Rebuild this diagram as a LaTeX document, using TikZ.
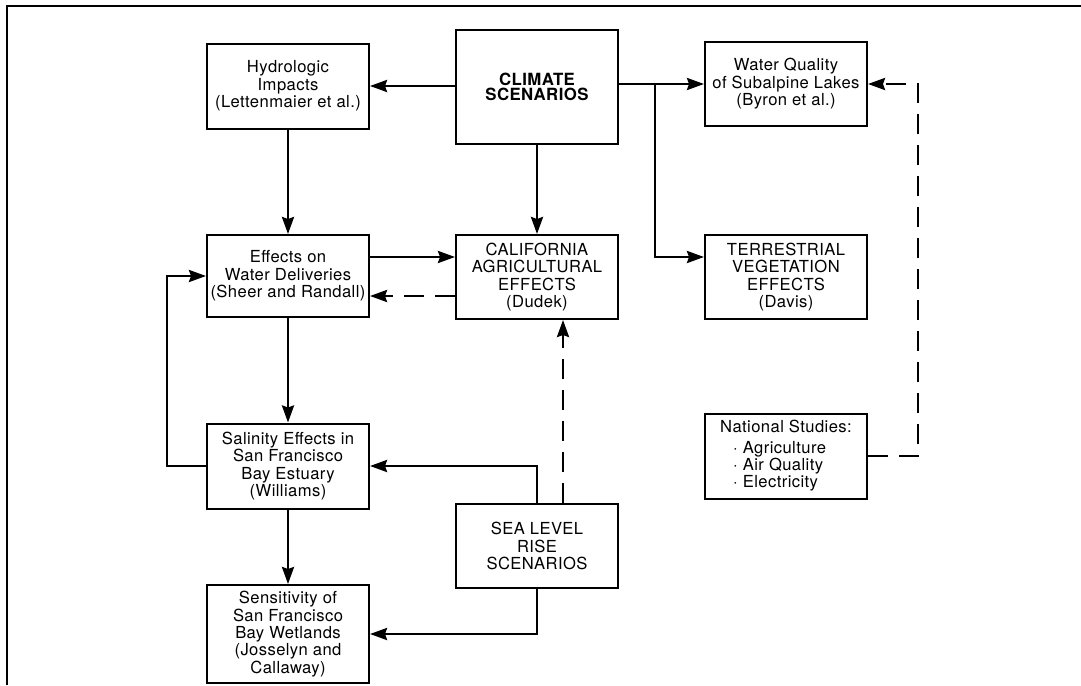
\documentclass[tikz,border=0pt]{standalone}
\usepackage{fontspec}
\setmainfont{TeX Gyre Heros}[LetterSpace=2.5]
\usetikzlibrary{arrows.meta}
\begin{document}
\begin{tikzpicture}[x=0.5pt,y=-0.5pt,
  box/.style={draw, line width=1pt, minimum width=81pt, minimum height=42pt, inner sep=0pt, align=center, font=\fontsize{8.3}{8.7}\selectfont},
  conn/.style={line width=1.3pt, -{Stealth[length=8.5pt,width=6pt,inset=1pt]}},
  dconn/.style={conn, dash pattern=on 10pt off 5.5pt},
  frame/.style={line width=1.1pt}
]
\useasboundingbox (0,0) rectangle (1081,685);
\coordinate (f1) at (7,685);
\coordinate (f2) at (7,6);
\coordinate (f3) at (1081,6);
\draw[frame] (f1) -- (f2) -- (f3);

\node[box, minimum height=42.5pt] (hyd) at (288,86) {Hydrologic\\Impacts\\(Lettenmaier et al.)};
\node[box, minimum height=57pt, font=\bfseries\fontsize{8.4}{7.5}\selectfont] (clim) at (537,87) {CLIMATE\\SCENARIOS};
\node[box] (wq) at (786,84) {Water Quality\\of Subalpine Lakes\\(Byron et al.)};
\node[box, minimum height=41pt] (eff) at (288,276) {Effects on\\Water Deliveries\\(Sheer and Randall)};
\node[box] (cal) at (537,277) {CALIFORNIA\\AGRICULTURAL\\EFFECTS\\(Dudek)};
\node[box] (ter) at (786,277) {TERRESTRIAL\\VEGETATION\\EFFECTS\\(Davis)};
\node[box, minimum height=42.5pt] (sal) at (288,466) {Salinity Effects in\\San Francisco\\Bay Estuary\\(Williams)};
\node[box, minimum height=49pt] (sen) at (288,634) {Sensitivity of\\San Francisco\\Bay Wetlands\\(Josselyn and\\Callaway)};
\node[box] (sea) at (537,546) {SEA LEVEL\\RISE\\SCENARIOS};
\node[box, minimum height=42.5pt, align=left] (nat) at (786,456) {National Studies:\\[1.5pt]\hspace*{6.5pt}· Agriculture\\\hspace*{6.5pt}· Air Quality\\\hspace*{6.5pt}· Electricity};

\draw[conn] (clim.west |- hyd.east) -- (hyd.east);
\draw[conn] (clim.east |- wq.west) -- (wq.west);
\coordinate (br) at (655,84);
\draw[conn] (br) |- (ter.west |- 0,257);
\draw[conn] (clim) -- (cal);
\draw[conn] (hyd) -- (eff);
\draw[conn] (eff.east |- 0,257) -- (cal.west |- 0,257);
\draw[dconn] (cal.west |- 0,296) -- (eff.east |- 0,296);
\draw[conn] (eff) -- (sal);
\coordinate (lp) at (167,466);
\draw[conn] (sal.west) -- (lp) |- (eff.west);
\draw[conn] (sal) -- (sen);
\draw[conn] (sea.north) |- (sal.east);
\draw[conn] (sea.south) |- (sen.east);
\draw[dconn] (sea.north -| 563,0) -- (cal.south -| 563,0);
\coordinate (dc) at (918,456);
\draw[dconn] (nat.east) -- (dc) |- (wq.east);
\end{tikzpicture}
\end{document}
